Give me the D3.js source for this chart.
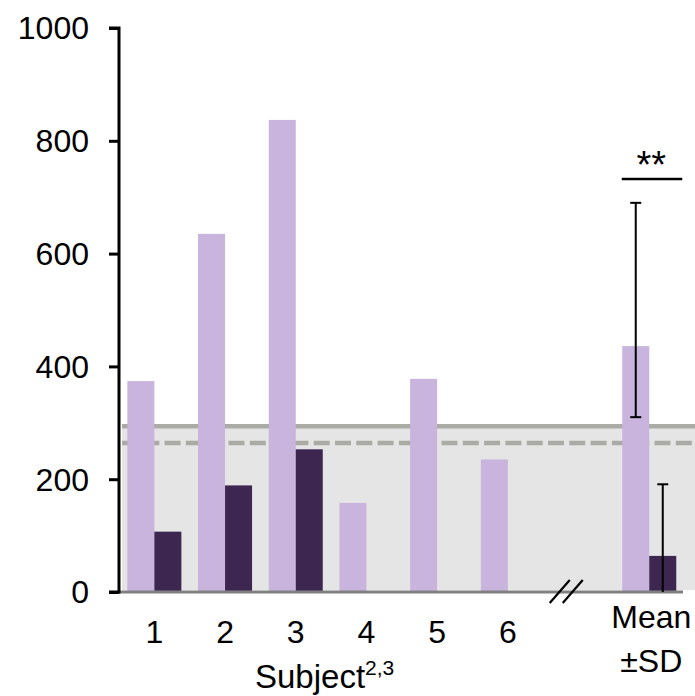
<!DOCTYPE html>
<html>
<head>
<meta charset="utf-8">
<script src="https://cdn.jsdelivr.net/npm/d3@7"></script>
<style>
  html, body { margin: 0; padding: 0; background: #fff; }
  svg { display: block; font-family: Arial, "Liberation Sans", sans-serif; }
</style>
</head>
<body>
<svg id="chart" width="695" height="696"></svg>
<script>
// ---- data ----
const slots = ["1", "2", "3", "4", "5", "6", "gap", "Mean"];
const categories = ["1", "2", "3", "4", "5", "6", "Mean"];
const seriesLight = [374, 635, 837, 158, 378, 235, 436];
const seriesDark = [107, 189, 253, 0, 0, 0, 64];
const errLight = { cat: "Mean", low: 310, high: 690 };
const errDark = { cat: "Mean", low: 0, high: 191 };
const refSolid = 294;
const refDashed = 264;
const yTicks = [0, 200, 400, 600, 800, 1000];
const xLabels = ["1", "2", "3", "4", "5", "6"];

// ---- layout ----
const svg = d3.select("#chart");
const x = d3.scaleBand().domain(slots).range([119, 684.6]).paddingInner(0.236).paddingOuter(0.118);
const sub = d3.scaleBand().domain(["light", "dark"]).range([0, x.bandwidth()]);
const y = d3.scaleLinear().domain([0, 1000]).range([592, 28]);

const colLight = "#C8B4DC";
const colDark = "#3D2650";
const gridCol = "#ABABA6";
const FS = 32;

// shaded reference band
svg.append("rect")
  .attr("x", 122).attr("y", y(refSolid))
  .attr("width", 695 - 122).attr("height", y(0) - 2 - y(refSolid))
  .attr("fill", "#E5E5E5");
svg.append("line")
  .attr("x1", 122).attr("x2", 695)
  .attr("y1", y(refSolid)).attr("y2", y(refSolid))
  .attr("stroke", gridCol).attr("stroke-width", 4.5);
svg.append("line")
  .attr("x1", 122).attr("x2", 695)
  .attr("y1", y(refDashed)).attr("y2", y(refDashed))
  .attr("stroke", gridCol).attr("stroke-width", 4.5)
  .attr("stroke-dasharray", "16,5.3");

// bars
const rows = categories.map((c, i) => ({ cat: c, light: seriesLight[i], dark: seriesDark[i] }));
svg.append("g").selectAll("rect").data(rows).join("rect")
  .attr("x", d => x(d.cat) + sub("light"))
  .attr("y", d => y(d.light))
  .attr("width", sub.bandwidth())
  .attr("height", d => y(0) - y(d.light))
  .attr("fill", colLight);
svg.append("g").selectAll("rect").data(rows.filter(d => d.dark > 0)).join("rect")
  .attr("x", d => x(d.cat) + sub("dark"))
  .attr("y", d => y(d.dark))
  .attr("width", sub.bandwidth())
  .attr("height", d => y(0) - y(d.dark))
  .attr("fill", colDark);

// baseline
svg.append("line")
  .attr("x1", 119).attr("x2", 683)
  .attr("y1", y(0)).attr("y2", y(0))
  .attr("stroke", "#808080").attr("stroke-width", 3);

// error bars
function errBar(e, key) {
  const cx = x(e.cat) + sub(key) + sub.bandwidth() / 2;
  const g = svg.append("g").attr("stroke", "#000").attr("stroke-width", 2);
  g.append("line").attr("x1", cx).attr("x2", cx).attr("y1", y(e.high)).attr("y2", y(e.low));
  g.append("line").attr("x1", cx - 5.5).attr("x2", cx + 5.5).attr("y1", y(e.high)).attr("y2", y(e.high));
  if (e.low > 0) g.append("line").attr("x1", cx - 5.5).attr("x2", cx + 5.5).attr("y1", y(e.low)).attr("y2", y(e.low));
}
errBar(errLight, "light");
errBar(errDark, "dark");

// significance marker
const mx = x("Mean");
svg.append("line")
  .attr("x1", mx - 0.5).attr("x2", mx + x.bandwidth() + 6)
  .attr("y1", 179).attr("y2", 179)
  .attr("stroke", "#000").attr("stroke-width", 2.5);
svg.append("text")
  .attr("x", mx + x.bandwidth() / 2 + 2).attr("y", 178)
  .attr("text-anchor", "middle").attr("font-size", 38)
  .text("**");

// y axis
const yAxis = d3.axisLeft(y).tickValues(yTicks).tickSize(10).tickPadding(20).tickFormat(d3.format("d"));
const ga = svg.append("g").attr("transform", "translate(119,0)").call(yAxis);
ga.select(".domain").attr("stroke", "#000").attr("stroke-width", 3).attr("d", `M-10,${y(1000)}H0V${y(0)}H-10`);
ga.selectAll(".tick line").attr("stroke", "#000").attr("stroke-width", 3);
ga.selectAll(".tick text").attr("font-size", FS).attr("fill", "#000").attr("dy", "0.34em")
  .attr("font-family", "Arial, 'Liberation Sans', sans-serif");

// x labels
svg.append("g").selectAll("text").data(xLabels).join("text")
  .attr("x", d => x(d) + x.bandwidth() / 2)
  .attr("y", 643)
  .attr("text-anchor", "middle").attr("font-size", FS)
  .text(d => d);
svg.append("text")
  .attr("x", x("Mean") + x.bandwidth() / 2 + 2).attr("y", 628)
  .attr("text-anchor", "middle").attr("font-size", FS)
  .text("Mean");
svg.append("text")
  .attr("x", x("Mean") + x.bandwidth() / 2 + 2).attr("y", 672)
  .attr("text-anchor", "middle").attr("font-size", FS)
  .text("±SD");

// axis title
const t = svg.append("text").attr("x", 255).attr("y", 688).attr("font-size", 33);
t.append("tspan").text("Subject");
t.append("tspan").attr("font-size", 21).attr("dy", -13).text("2,3");

// axis break
const bx = x("Mean") - 56;
svg.append("g").attr("stroke", "#000").attr("stroke-width", 2.2)
  .selectAll("line").data([-6.5, 6.5]).join("line")
  .attr("x1", d => bx + d - 10).attr("y1", y(0) + 11)
  .attr("x2", d => bx + d + 10).attr("y2", y(0) - 12);
</script>
</body>
</html>
